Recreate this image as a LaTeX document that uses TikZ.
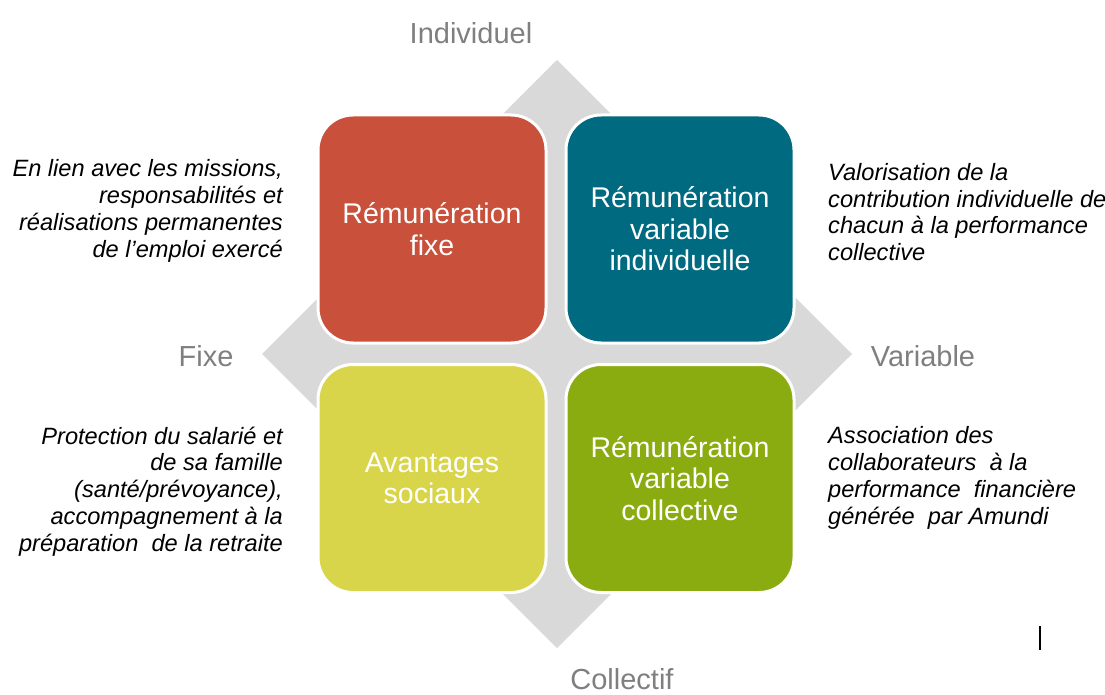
\documentclass[tikz,border=0pt]{standalone}
\usepackage{fontspec}
\setmainfont{Liberation Sans}
\usepackage{xcolor}
\usepackage{tikz}

\definecolor{fixered}{RGB}{201,80,58}
\definecolor{indteal}{RGB}{0,106,128}
\definecolor{socyellow}{RGB}{217,213,74}
\definecolor{colgreen}{RGB}{139,172,16}
\definecolor{crossgrey}{RGB}{217,217,217}
\definecolor{axisgrey}{RGB}{127,127,127}

\tikzset{
  quadbox/.style={draw=white, line width=3pt, rounded corners=35pt,
    minimum width=228pt, minimum height=228pt, text=white, align=center,
    font=\fontsize{28.5}{31.5}\selectfont},
  axislabel/.style={text=axisgrey, inner sep=0pt, font=\fontsize{29}{30}\selectfont},
  remark/.style={inner sep=0pt, text=black, font=\fontsize{23.6}{26.8}\selectfont\itshape}
}

\begin{document}
\begin{tikzpicture}[x=1pt, y=-1pt]
  \useasboundingbox (0,0) rectangle (1105,695);
  % Grey cross behind the four quadrants
  \fill[crossgrey] (557,60) -- (852,354) -- (557,648) -- (262,354) -- cycle;
  % Quadrants
  \node[quadbox, fill=fixered]   (fixe)  at (432,229)   {Rémunération\\fixe};
  \node[quadbox, fill=indteal]   (varind) at (680,229)  {Rémunération\\variable\\individuelle};
  \node[quadbox, fill=socyellow] (avsoc) at (432,478.5) {Avantages\\sociaux};
  \node[quadbox, fill=colgreen]  (varcol) at (680,478.5) {Rémunération\\variable\\collective};
  % Axis labels
  \node[axislabel] (individuel) at (471,33)  {Individuel};
  \node[axislabel] (fixelbl)    at (206,356) {Fixe};
  \node[axislabel] (variable)   at (923,356) {Variable};
  \node[axislabel] (collectif)  at (622,679.5) {Collectif};
  % Remarks on each side
  \node[remark, anchor=east, align=right] (notefixe) at (283,211)
    {En lien avec les missions,\\responsabilités et\\réalisations permanentes\\de l’emploi exercé};
  \node[remark, anchor=east, align=right] (notesoc) at (283,491.5)
    {Protection du salarié et\\de sa famille\\(santé/prévoyance),\\accompagnement à la\\préparation\ \ de la retraite};
  \node[remark, anchor=west, align=left] (noteind) at (828,212)
    {Valorisation de la\\contribution individuelle de\\chacun à la performance\\collective};
  \node[remark, anchor=west, align=left] (notecol) at (828,478)
    {Association des\\collaborateurs\ \ à la\\performance\ \ financière\\générée\ \ par Amundi};
  % Small mark at the bottom right
  \draw[line width=2.5pt, black] (1040,626) -- (1040,650);
\end{tikzpicture}
\end{document}
